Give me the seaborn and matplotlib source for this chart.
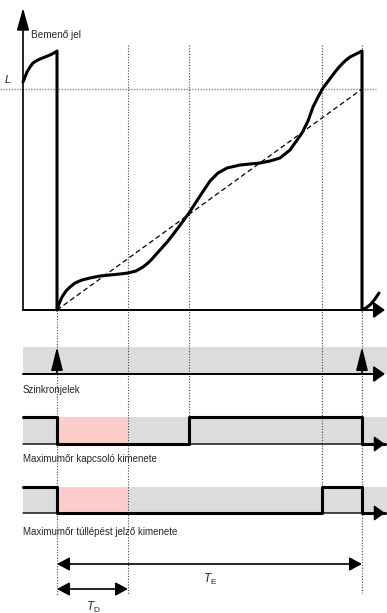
import numpy as np
import pandas as pd
import matplotlib
matplotlib.use("Agg")
import matplotlib.pyplot as plt
import seaborn as sns

sns.set_style("white")
plt.rcParams['font.family'] = ['Liberation Sans', 'DejaVu Sans']
plt.rcParams['mathtext.fontset'] = 'custom'
plt.rcParams['mathtext.it'] = 'Liberation Sans:italic'
plt.rcParams['mathtext.rm'] = 'Liberation Sans'

# event times (horizontal drawing units)
t_axis = 23
t_sync = [57, 362]
t_d_end = 128
t_switch_on = 189
t_limit = 322
t_arrow_end = 385

# vertical layout of the four rows
sig_base = 310
level_L = 89
sync_band = (347, 374)
switch_band = (417, 444)
exceed_band = (487, 513)
te_row = 564
td_row = 589

# input signal (integrator output)
sig_x = [23, 25, 27, 30, 33, 36, 40, 45, 50, 54, 57,
         57, 59, 62, 66, 70, 75, 82, 90, 100, 110, 120, 128, 136, 143, 148, 152, 160, 168,
         178, 189, 200, 210, 218, 227, 240, 250, 260, 270, 280, 290, 302, 308, 313, 318,
         323, 329, 335, 340, 345, 350, 356, 362,
         362, 366, 371, 375, 379]
sig_y = [82, 77, 72, 67, 63, 61, 59, 57, 55, 53, 51,
         310, 304, 297, 291, 287, 283, 280, 278, 276, 275, 274, 273, 271, 267, 263, 259, 250, 241,
         228, 213, 196, 181, 173, 168, 165, 164, 163, 161, 158, 150, 133, 121, 107, 97,
         88, 80, 72, 66, 61, 57, 54, 51,
         310, 308, 304, 299, 293]

# linear reference ramp
ramp_x = [57, 362]
ramp_y = [310, 89]

# digital outputs (1 = high)
switch_t = [23, 57, 189, 362, 385]
switch_state = [1, 0, 1, 0, 0]
exceed_t = [23, 57, 322, 362, 385]
exceed_state = [1, 0, 1, 0, 0]

labels = ["Szinkronjelek", "Maximumőr kapcsoló kimenete", "Maximumőr túllépést jelző kimenete"]

gray = "#dcdcdc"
pink = "#ffcccc"

fig = plt.figure(figsize=(3.87, 6.13), dpi=100)
ax = fig.add_axes([0, 0, 1, 1])
ax.set_xlim(0, 387)
ax.set_ylim(613, 0)
ax.axis("off")


def arrow(ax, tail, tip, style="-|>", lw=1.2, hl=0.5, hw=0.3, ms=15):
    ax.annotate("", xy=tip, xytext=tail,
                arrowprops=dict(arrowstyle=f"{style},head_length={hl},head_width={hw}",
                                lw=lw, color="black", shrinkA=0, shrinkB=0,
                                mutation_scale=ms))


# background bands
for band in [sync_band, switch_band, exceed_band]:
    ax.fill_between([t_axis, 387], band[0], band[1], color=gray, lw=0, zorder=0)
for band in [switch_band, exceed_band]:
    ax.fill_between([t_sync[0], t_d_end], band[0], band[1], color=pink, lw=0, zorder=0.5)

# dotted guide lines
dot = dict(color="#444444", lw=0.8, ls=(0, (1, 1.5)), zorder=1)
ax.plot([0, 376], [level_L, level_L], color="#888888", lw=1.0, ls=(0, (1, 1)), zorder=1)
ax.plot([t_sync[0], t_sync[0]], [sig_base, 595], **dot)
ax.plot([t_d_end, t_d_end], [45, 595], **dot)
ax.plot([t_switch_on, t_switch_on], [45, switch_band[0]], **dot)
ax.plot([t_limit, t_limit], [45, exceed_band[0]], **dot)
ax.plot([t_sync[1], t_sync[1]], [45, 593], **dot)

# top plot axes
arrow(ax, (t_axis, sig_base), (t_axis, 8), lw=1.2, hl=0.9, hw=0.25)
arrow(ax, (t_axis, sig_base), (t_arrow_end, sig_base), lw=1.4, hl=0.45, hw=0.32)

sns.lineplot(x=ramp_x, y=ramp_y, ax=ax, color="black", lw=0.9, sort=False, estimator=None)
ax.lines[-1].set_linestyle((0, (4, 2.5)))
sns.lineplot(x=sig_x, y=sig_y, ax=ax, color="black", lw=2.2, sort=False, estimator=None)

ax.text(t_axis + 8, 35, "Bemenő jel", fontsize=7.2, va="center", ha="left")
ax.text(8, 80, "L", fontsize=8, style="italic", va="center", ha="center")

# sync row
arrow(ax, (t_axis, sync_band[1]), (t_arrow_end, sync_band[1]), lw=1.4, hl=0.45, hw=0.32)
for ts in t_sync:
    arrow(ax, (ts, sync_band[1]), (ts, sync_band[0]), lw=1.2, hl=0.95, hw=0.24)

# digital outputs
for band, tt, st in [(switch_band, switch_t, switch_state), (exceed_band, exceed_t, exceed_state)]:
    arrow(ax, (t_axis, band[1]), (t_arrow_end, band[1]), lw=1.0, hl=0.45, hw=0.32)
    yy = [band[1] - s * (band[1] - band[0]) for s in st]
    sns.lineplot(x=tt, y=yy, ax=ax, color="black", lw=2.2, sort=False, estimator=None,
                 drawstyle="steps-post")

for lab, y in zip(labels, [390, 459, 532]):
    ax.text(t_axis, y, lab, fontsize=7, va="center", ha="left")

# time intervals
arrow(ax, (t_sync[0], te_row), (t_sync[1], te_row), style="<|-|>", lw=1.2, hl=0.5, hw=0.27)
arrow(ax, (t_sync[0], td_row), (t_d_end, td_row), style="<|-|>", lw=1.2, hl=0.5, hw=0.27)
ax.text(210, 579, r"$T_{\mathrm{E}}$", fontsize=8.5, ha="center", va="center")
ax.text(93, 607, r"$T_{\mathrm{D}}$", fontsize=8.5, ha="center", va="center")

legend = ax.get_legend()
if legend is not None:
    legend.remove()

fig.savefig("out.png", dpi=100)
